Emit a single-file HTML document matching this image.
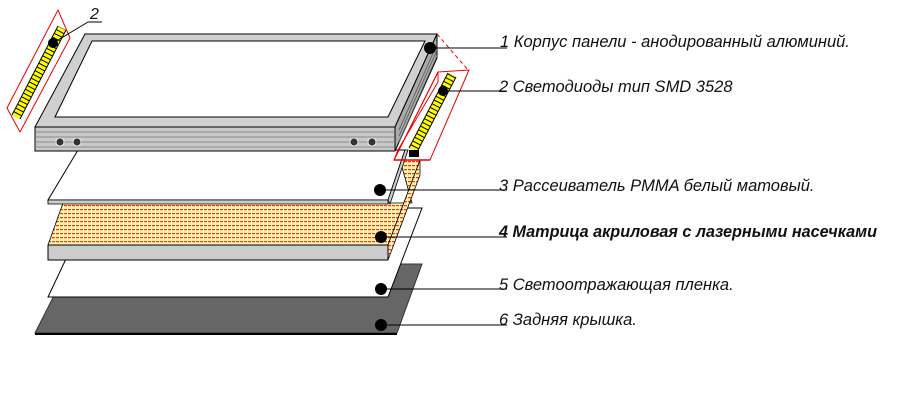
<!DOCTYPE html>
<html><head><meta charset="utf-8"><style>
html,body{margin:0;padding:0;background:#fff;width:900px;height:400px;overflow:hidden}
text{font-family:"Liberation Sans",sans-serif;font-style:italic;font-size:16.5px;fill:#111}
</style></head><body>
<svg width="900" height="400" viewBox="0 0 900 400" xmlns="http://www.w3.org/2000/svg">
<defs>
<pattern id="dots" width="4" height="4" patternUnits="userSpaceOnUse">
<rect width="4" height="4" fill="#fff6a8"/><rect x="0" y="1" width="3" height="1.2" fill="#e33"/>
</pattern>
</defs>
<!-- layer 6 back cover -->
<polygon points="35,333 397,333 422,264 70,264" fill="#666" stroke="#333"/>
<line x1="35" y1="334" x2="397" y2="334" stroke="#000" stroke-width="2"/>
<!-- layer 5 reflector -->
<polygon points="48,297 388,297 422,208 90,208" fill="#fff" stroke="#000"/>
<!-- layer 4 matrix -->
<polygon points="48,245 388,245 420,160 400,160 412,203 63,203" fill="url(#dots)" stroke="#000" stroke-width="0.8"/>
<polygon points="388,245 420,160 420,175 388,260" fill="url(#dots)" stroke="#000" stroke-width="0.8"/>
<rect x="48" y="245" width="340" height="15" fill="#ccc" stroke="#000"/>
<!-- layer 3 diffuser -->
<polygon points="48,200 388,200 405,150 78,150" fill="#fff" stroke="#000"/>
<polygon points="48,200 388,200 388,204 48,204" fill="#ccc" stroke="#000" stroke-width="0.8"/>
<polygon points="388,200 405,150 408,150 390,204" fill="#ccc" stroke="#000" stroke-width="0.8"/>
<!-- frame -->
<polygon points="35,127 85,34 437,34 395,127" fill="#d0d0d0" stroke="#000"/>
<polygon points="55,117 92,41 425,41 388,117" fill="#fff" stroke="#000"/>
<polygon points="395,127 437,34 437,58 395,151" fill="#aaa" stroke="#000"/>
<g stroke="#555" stroke-width="0.8">
<line x1="399" y1="130" x2="437" y2="44"/><line x1="399" y1="136" x2="437" y2="50"/><line x1="399" y1="142" x2="437" y2="56"/>
</g>
<rect x="35" y="127" width="360" height="24" fill="#c8c8c8" stroke="#000"/>
<g stroke="#777" stroke-width="0.8">
<line x1="35" y1="132" x2="395" y2="132"/><line x1="35" y1="137" x2="395" y2="137"/><line x1="35" y1="142" x2="395" y2="142"/><line x1="35" y1="147" x2="395" y2="147"/>
</g>
<g fill="#333" stroke="#fff" stroke-width="0.8">
<circle cx="60" cy="142" r="4"/><circle cx="77" cy="142" r="4"/><circle cx="354" cy="142" r="4"/><circle cx="372" cy="142" r="4"/>
</g>
<!-- left LED box -->
<polygon points="7,108 58,10 70,38 20,132" fill="none" stroke="#e00"/>
<line x1="16" y1="117" x2="62" y2="28" stroke="#000" stroke-width="10"/>
<line x1="16" y1="117" x2="62" y2="28" stroke="#ffff00" stroke-width="8" stroke-dasharray="3.2,1"/>
<circle cx="53" cy="43" r="5" fill="#000"/>
<line x1="53" y1="43" x2="88" y2="22" stroke="#000"/>
<line x1="88" y1="22" x2="102" y2="22" stroke="#000"/>
<text x="90" y="19" style="font-size:16px">2</text>
<!-- right LED box -->
<line x1="437" y1="34" x2="468" y2="70" stroke="#e00" stroke-dasharray="4,3"/>
<polygon points="438,72 469,70 430,160 394,160" fill="none" stroke="#e00"/>
<polygon points="438,72 438,82 398,150 394,160" fill="none" stroke="#e00"/>
<line x1="413" y1="150" x2="452" y2="75" stroke="#000" stroke-width="10"/>
<line x1="413" y1="150" x2="452" y2="75" stroke="#ffff00" stroke-width="8" stroke-dasharray="3.2,1"/>
<rect x="409" y="150" width="10" height="7" fill="#000"/>
<line x1="394" y1="160" x2="430" y2="160" stroke="#e00" stroke-width="1.5"/>
<!-- dots & leaders -->
<g fill="#000">
<circle cx="430" cy="48" r="6"/><circle cx="443" cy="91" r="5"/><circle cx="380" cy="190" r="6"/><circle cx="381" cy="237" r="6"/><circle cx="381" cy="289" r="6"/><circle cx="381" cy="325" r="6"/>
</g>
<g stroke="#000">
<line x1="430" y1="48" x2="507" y2="48"/><line x1="443" y1="91" x2="507" y2="91"/>
<line x1="380" y1="190" x2="507" y2="190"/><line x1="381" y1="237" x2="507" y2="237"/>
<line x1="381" y1="289" x2="507" y2="289"/><line x1="381" y1="325" x2="507" y2="325"/>
</g>
<text x="500" y="47">1  Корпус панели - анодированный алюминий.</text>
<text x="499" y="92">2 Светодиоды  тип SMD 3528</text>
<text x="499" y="191">3 Рассеиватель PMMA белый матовый.</text>
<text x="499" y="237" style="font-weight:bold;font-size:16.2px">4  Матрица акриловая с лазерными насечками</text>
<text x="499" y="290">5 Светоотражающая пленка.</text>
<text x="499" y="325">6 Задняя крышка.</text>
</svg>
</body></html>
